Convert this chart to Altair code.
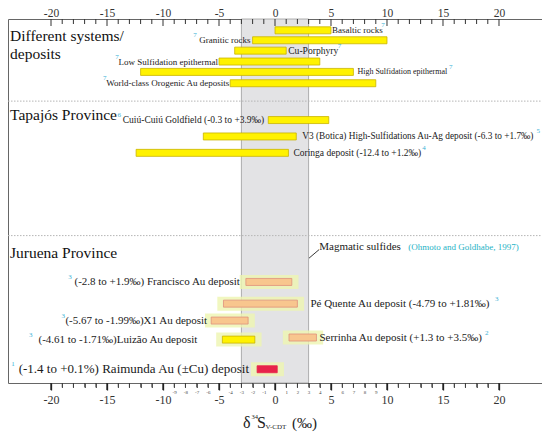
import altair as alt
import pandas as pd

FONT = "Liberation Serif"

# ---------------- data ----------------
SYS_NAMES = ["Basaltic rocks", "Granitic rocks", "Cu-Porphyry", "Low Sulfidation epithermal",
             "High Sulfidation epithermal", "World-class Orogenic Au deposits"]
SYS_MIN = [0, -2, -3.6, -5, -12, -4]
SYS_MAX = [5, 10, 1, 4, 7, 9]
SYS_ROW = [1.07, 2.01, 2.99, 4.02, 5.0, 6.07]
SYS_REF = ["7", "7", "7", "7", "7", "7"]
SYS_SIDE = ["right", "left", "right", "left", "right", "left"]
SYS_KIND = ["yellow"] * 6

TAP_NAMES = ["Cuiú-Cuiú Goldfield (-0.3 to +3.9‰)",
             "V3 (Botica) High-Sulfidations Au-Ag deposit (-6.3 to +1.7‰)",
             "Coringa deposit (-12.4 to +1.2‰)"]
TAP_MIN = [-0.6, -6.4, -12.4]
TAP_MAX = [4.8, 1.9, 1.2]
TAP_ROW = [9.55, 11.1, 12.65]
TAP_REF = ["6", "5", "4"]
TAP_SIDE = ["left", "right", "right"]
TAP_KIND = ["yellow"] * 3

JUR_NAMES = ["(-2.8 to +1.9‰) Francisco Au deposit",
             "Pé Quente Au deposit (-4.79 to +1.81‰)",
             "(-5.67 to -1.99‰)X1 Au deposit",
             "(-4.61 to -1.71‰)Luizão Au deposit",
             "Serrinha Au deposit (+1.3 to +3.5‰)",
             "(-1.4 to +0.1%) Raimunda Au (±Cu) deposit"]
JUR_MIN = [-2.6, -4.6, -5.7, -4.7, 1.25, -1.6]
JUR_MAX = [1.5, 2.0, -2.4, -1.8, 3.7, 0.2]
JUR_ROW = [24.85, 26.9, 28.5, 30.3, 30.1, 33.1]
JUR_REF = ["3", "3", "3", "3", "2", "1"]
JUR_SIDE = ["left", "right", "left", "left", "right", "left"]
JUR_KIND = ["orange", "orange", "orange", "yellow", "orange", "red"]

BAND_MIN = [-3]
BAND_MAX = [3]
MAG_LABEL = ["Magmatic sulfides"]
MAG_REF = ["(Ohmoto and Goldhabe, 1997)"]

SECTION_TITLES = ["Different systems/", "deposits", "Tapajós Province", "Juruena Province"]

MAJOR_TICKS = [-20, -15, -10, -5, 0, 5, 10, 15, 20]
MINOR_TICKS = [v for v in range(-20, 21) if v % 5 != 0]

# ---------------- layout / style ----------------
W, H = 534, 364
XMIN, XMAX = -23.84, 23.84
YMAX = 34.4
PXU = W / (XMAX - XMIN)
PXL = H / YMAX

LABEL_FS = [9, 9, 9.6, 9, 8, 9, 9.5, 9.3, 9.5, 11, 11, 11, 11, 11, 13]
LABEL_GAP = [1, 2, 2, 1, 4, 1, 4, 6, 5, 6, 13, 4, 25, 3, 8]
NOTE_X = [9.64, -7.14, 5.75, -14.1, 15.7, -15.2, -13.9, 23.5, 13.3,
          -18.3, 19.8, -18.9, -21.8, 18.9, -23.4]
SECTION_ROWS = [1.59, 3.27, 9.07, 22.15]
SEP_ROWS = [7.76, 20.47]
MAG_POS = (3.95, 21.5)
MAG_REF_POS = (11.9, 21.5)
POINTER = dict(x=[3.04], x2=[3.93], r=[22.6], r2=[21.8])

KIND_DOMAIN = ["yellow", "orange", "red"]
KIND_FILL = ["#fff200", "#f8c68e", "#e8234a"]
KIND_STROKE = ["#c9b400", "#e0907c", "#e8234a"]
NOTE_COLOR = "#3ab2d6"
TEXT_COLOR = "#1a1a1a"

df = pd.DataFrame({
    "name": SYS_NAMES + TAP_NAMES + JUR_NAMES,
    "lo": SYS_MIN + TAP_MIN + JUR_MIN,
    "hi": SYS_MAX + TAP_MAX + JUR_MAX,
    "row": SYS_ROW + TAP_ROW + JUR_ROW,
    "ref": SYS_REF + TAP_REF + JUR_REF,
    "side": SYS_SIDE + TAP_SIDE + JUR_SIDE,
    "kind": SYS_KIND + TAP_KIND + JUR_KIND,
    "group": ["sys"] * 6 + ["tap"] * 3 + ["jur"] * 6,
})
df["fs"] = LABEL_FS
df["gap"] = LABEL_GAP
df["note_x"] = NOTE_X

XS = alt.Scale(domain=[XMIN, XMAX], nice=False, zero=False)
YS = alt.Scale(domain=[YMAX, 0], nice=False, zero=False)

BOTTOM_MAJOR_AXIS = alt.Axis(
    orient="bottom", values=MAJOR_TICKS, title=None, grid=False, domain=False,
    ticks=True, tickSize=7, tickWidth=1.3, tickColor="#222",
    labelExpr="'' + datum.value",
    labelFontSize=12, labelFont=FONT, labelColor="#333", labelPadding=4,
    labelOverlap=False, labelFlush=False, zindex=3,
)
BOTTOM_MINOR_AXIS = alt.Axis(
    orient="bottom", values=MINOR_TICKS, title=None, grid=False, domain=False,
    ticks=True, tickSize=4.5, tickWidth=0.8, tickColor="#333",
    labelExpr="abs(datum.value) < 10 ? '' + datum.value : ''",
    labelFontSize=5, labelFont=FONT, labelColor="#444", labelPadding=1.5,
    labelOverlap=False, labelFlush=False, zindex=3,
)
TOP_AXIS = alt.Axis(
    orient="top", values=MAJOR_TICKS, title=None, grid=False, domain=False,
    ticks=False, tickSize=0, labelExpr="'' + datum.value", labelBaseline="alphabetic",
    labelFontSize=11.5, labelFont=FONT, labelColor="#333", labelPadding=3,
    labelOverlap=False, labelFlush=False,
)

band = alt.Chart(pd.DataFrame({"lo": BAND_MIN, "hi": BAND_MAX})).mark_rect(
    fill="#e3e3e5", stroke="#9c9c9c", strokeWidth=0.8
).encode(x=alt.X("lo:Q", scale=XS, axis=None), x2="hi:Q",
         y=alt.value(0), y2=alt.value(H))

seps = alt.Chart(pd.DataFrame({"row": SEP_ROWS})).mark_rule(
    color="#b5b5b5", strokeDash=[1.5, 1.5], strokeWidth=1
).encode(y=alt.Y("row:Q", scale=YS, axis=None), x=alt.value(0), x2=alt.value(W))

# top ticks (pointing inward)
major = alt.Chart(pd.DataFrame({"v": MAJOR_TICKS})).mark_rule(color="#333", strokeWidth=1).encode(
    x=alt.X("v:Q", scale=XS, axis=TOP_AXIS), y=alt.value(0), y2=alt.value(7))
minor = alt.Chart(pd.DataFrame({"v": MINOR_TICKS})).mark_rule(color="#333", strokeWidth=1).encode(
    x=alt.X("v:Q", scale=XS, axis=None), y=alt.value(0), y2=alt.value(5))
# bottom ticks (pointing outward), also drawn as rules
major_b = alt.Chart(pd.DataFrame({"v": MAJOR_TICKS})).mark_rule(color="#222", strokeWidth=1.3).encode(
    x=alt.X("v:Q", scale=XS, axis=None), y=alt.value(H), y2=alt.value(H + 7))
minor_b = alt.Chart(pd.DataFrame({"v": MINOR_TICKS})).mark_rule(color="#333", strokeWidth=0.8).encode(
    x=alt.X("v:Q", scale=XS, axis=None), y=alt.value(H), y2=alt.value(H + 4.5))

glow = alt.Chart(df).transform_filter("datum.group === 'jur'").transform_calculate(
    gx1="datum.lo - 0.55", gx2="datum.hi + 0.6",
    gy1=f"datum.row - {7 / PXL}", gy2=f"datum.row + {7 / PXL}"
).mark_rect(color="#eef5b0", opacity=0.8).encode(
    x=alt.X("gx1:Q", scale=XS, axis=None), x2="gx2:Q",
    y=alt.Y("gy1:Q", scale=YS, axis=None), y2="gy2:Q")

bars = alt.Chart(df).transform_calculate(
    y1=f"datum.row - {3.5 / PXL}", y2=f"datum.row + {3.5 / PXL}"
).mark_rect(strokeWidth=0.8).encode(
    x=alt.X("lo:Q", scale=XS, axis=BOTTOM_MAJOR_AXIS), x2="hi:Q",
    y=alt.Y("y1:Q", scale=YS, axis=None), y2="y2:Q",
    fill=alt.Fill("kind:N", scale=alt.Scale(domain=KIND_DOMAIN, range=KIND_FILL), legend=None),
    stroke=alt.Stroke("kind:N", scale=alt.Scale(domain=KIND_DOMAIN, range=KIND_STROKE), legend=None),
)

lab_right = alt.Chart(df).transform_filter("datum.side === 'right'").transform_calculate(
    lx=f"datum.hi + datum.gap / {PXU}"
).mark_text(align="left", baseline="middle", font=FONT, color=TEXT_COLOR).encode(
    x=alt.X("lx:Q", scale=XS, axis=BOTTOM_MINOR_AXIS), y=alt.Y("row:Q", scale=YS, axis=None),
    text="name:N", size=alt.Size("fs:Q", scale=None, legend=None))

lab_left = alt.Chart(df).transform_filter("datum.side === 'left'").transform_calculate(
    lx=f"datum.lo - datum.gap / {PXU}"
).mark_text(align="right", baseline="middle", font=FONT, color=TEXT_COLOR).encode(
    x=alt.X("lx:Q", scale=XS, axis=None), y=alt.Y("row:Q", scale=YS, axis=None),
    text="name:N", size=alt.Size("fs:Q", scale=None, legend=None))

notes = alt.Chart(df).mark_text(align="center", baseline="middle", font=FONT, fontSize=7,
                                color=NOTE_COLOR, dy=-5).encode(
    x=alt.X("note_x:Q", scale=XS, axis=None), y=alt.Y("row:Q", scale=YS, axis=None), text="ref:N")

titles = alt.Chart(pd.DataFrame({"t": SECTION_TITLES, "row": SECTION_ROWS})).mark_text(
    align="left", baseline="middle", font=FONT, fontSize=15.5, color="#111"
).encode(x=alt.value(2), y=alt.Y("row:Q", scale=YS, axis=None), text="t:N")

mag = alt.Chart(pd.DataFrame({"t": MAG_LABEL, "x": [MAG_POS[0]], "row": [MAG_POS[1]]})).mark_text(
    align="left", baseline="middle", font=FONT, fontSize=11, color=TEXT_COLOR
).encode(x=alt.X("x:Q", scale=XS, axis=None), y=alt.Y("row:Q", scale=YS, axis=None), text="t:N")
magref = alt.Chart(pd.DataFrame({"t": MAG_REF, "x": [MAG_REF_POS[0]], "row": [MAG_REF_POS[1]]})).mark_text(
    align="left", baseline="middle", font=FONT, fontSize=9, color="#1fb3c6"
).encode(x=alt.X("x:Q", scale=XS, axis=None), y=alt.Y("row:Q", scale=YS, axis=None), text="t:N")
pointer = alt.Chart(pd.DataFrame(POINTER)).mark_rule(color="#222", strokeWidth=0.9).encode(
    x=alt.X("x:Q", scale=XS, axis=None), x2="x2:Q",
    y=alt.Y("r:Q", scale=YS, axis=None), y2="r2:Q")

TITLE_PARTS = pd.DataFrame({
    "t": ["δ", "34", "S", "V-CDT", "(‰)"],
    "px": [235, 243.5, 249, 257.5, 284],
    "py": [H + 40, H + 34, H + 40, H + 44, H + 40],
    "fs": [16, 6.5, 16, 7, 15],
})
axis_title = alt.Chart(TITLE_PARTS).mark_text(
    align="left", baseline="middle", font=FONT, color="#222"
).encode(x=alt.X("px:Q", scale=None, axis=None), y=alt.Y("py:Q", scale=None, axis=None),
         text="t:N", size=alt.Size("fs:Q", scale=None, legend=None))

chart = alt.layer(
    band, seps, glow, bars, major, minor, major_b, minor_b, lab_right, lab_left, notes, titles,
    mag, magref, pointer, axis_title
).resolve_axis(x="independent").properties(
    width=W, height=H,
    autosize=alt.AutoSizeParams(type="none"),
    padding={"left": 0, "top": 11, "right": 0, "bottom": 52},
).configure_view(stroke="#666", strokeWidth=1)

chart.save("out.html", embed_options={"renderer": "svg", "actions": False})
